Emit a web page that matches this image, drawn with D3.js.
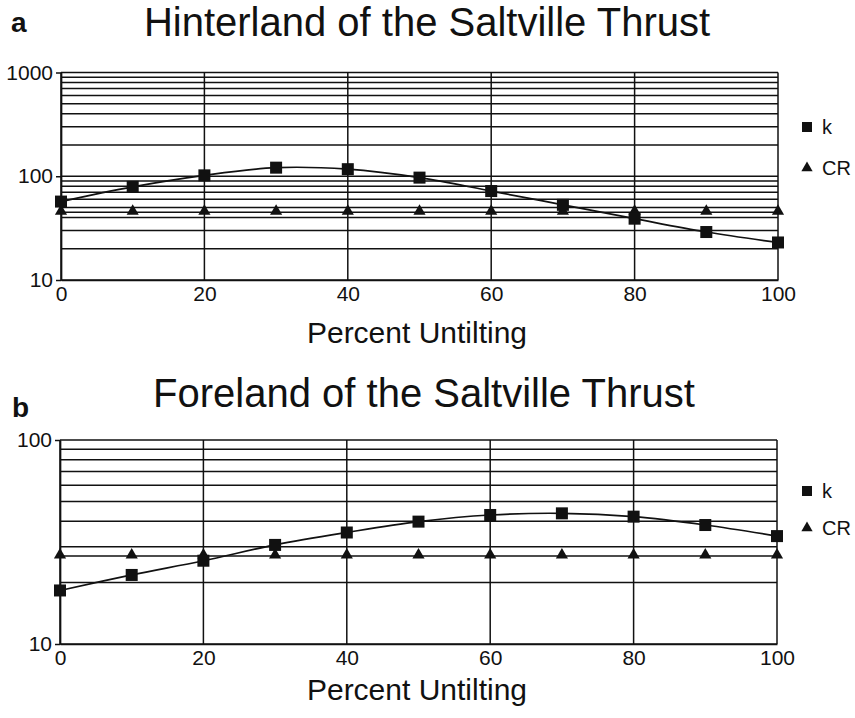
<!DOCTYPE html>
<html>
<head>
<meta charset="utf-8">
<script src="https://cdn.jsdelivr.net/npm/d3@7"></script>
<style>
  html, body { margin: 0; padding: 0; background: #fff; }
  svg { display: block; font-family: "Liberation Sans", Arial, Helvetica, sans-serif; }
</style>
</head>
<body>
<svg id="chart" width="855" height="718"></svg>
<script>
// Percent untilting steps shared by both panels
const untilting = [0, 10, 20, 30, 40, 50, 60, 70, 80, 90, 100];

// Panel a: hinterland of the Saltville Thrust
const hinterlandK  = [57, 79, 102, 121, 117, 97, 72, 53, 39, 29, 23];
const hinterlandCR = [45, 45, 45, 45, 45, 45, 45, 45, 45, 45, 45];

// Panel b: foreland of the Saltville Thrust
const forelandK  = [18.3, 21.8, 25.6, 30.6, 35.2, 39.8, 42.9, 43.7, 42.1, 38.3, 33.8];
const forelandCR = [27, 27, 27, 27, 27, 27, 27, 27, 27, 27, 27];

const xTicks = [0, 20, 40, 60, 80, 100];
const yTicksA = [10, 100, 1000];
const yTicksB = [10, 100];
const seriesNames = ["k", "CR"];

const svg = d3.select("#chart");
const ink = "#111";

function panel(opt) {
  const g = svg.append("g");
  const x = d3.scaleLinear().domain([0, 100]).range([opt.left, opt.right]);
  const y = d3.scaleLog().domain(opt.yDomain).range([opt.bottom, opt.top]);

  // panel letter and title
  g.append("text").attr("x", opt.letterX).attr("y", opt.letterY)
    .attr("font-size", 28).attr("font-weight", "bold").attr("fill", ink).text(opt.letter);
  g.append("text").attr("x", opt.titleX).attr("y", opt.titleY)
    .attr("text-anchor", "middle").attr("font-size", 40).attr("fill", ink).text(opt.title);

  // horizontal grid at every log step (10, 20, ... 90, 100, 200, ...)
  g.append("g").selectAll("line").data(y.ticks())
    .join("line")
    .attr("x1", opt.left).attr("x2", opt.right)
    .attr("y1", d => y(d)).attr("y2", d => y(d))
    .attr("stroke", ink).attr("stroke-width", 1.5);

  // vertical grid
  g.append("g").selectAll("line").data(xTicks)
    .join("line")
    .attr("x1", d => x(d)).attr("x2", d => x(d))
    .attr("y1", opt.top).attr("y2", opt.bottom)
    .attr("stroke", ink).attr("stroke-width", 1.5);

  // axes
  const yAxis = d3.axisLeft(y).tickValues(opt.yTicks).tickFormat(d3.format("d"))
    .tickSizeInner(5).tickSizeOuter(0).tickPadding(3);
  const ya = g.append("g").attr("transform", `translate(${opt.left},0)`).call(yAxis);
  ya.select(".domain").attr("stroke", ink).attr("stroke-width", 1.7);
  ya.selectAll(".tick line").attr("stroke", ink).attr("stroke-width", 1.5);
  ya.selectAll(".tick text").attr("font-size", 21).attr("fill", ink)
    .attr("font-family", "Liberation Sans, Arial, sans-serif");

  const xAxis = d3.axisBottom(x).tickValues(xTicks).tickSizeInner(0).tickSizeOuter(0).tickPadding(6);
  const xa = g.append("g").attr("transform", `translate(0,${opt.bottom})`).call(xAxis);
  xa.select(".domain").attr("stroke", ink).attr("stroke-width", 1.7);
  xa.selectAll(".tick text").attr("font-size", 21).attr("fill", ink)
    .attr("font-family", "Liberation Sans, Arial, sans-serif");

  g.append("text").attr("x", opt.xLabelX).attr("y", opt.xLabelY)
    .attr("text-anchor", "middle").attr("font-size", 30).attr("fill", ink).text("Percent Untilting");

  const kPts = untilting.map((u, i) => [u, opt.k[i]]);
  const crPts = untilting.map((u, i) => [u, opt.cr[i]]);

  // CR series line and triangle markers
  g.append("path").datum(crPts)
    .attr("d", d3.line().x(d => x(d[0])).y(d => y(d[1])))
    .attr("fill", "none").attr("stroke", ink).attr("stroke-width", 1.5);
  const tri = d3.symbol().type(d3.symbolTriangle).size(64);
  g.append("g").selectAll("path").data(crPts).join("path")
    .attr("transform", d => `translate(${x(d[0])},${y(d[1]) - 1})`)
    .attr("d", tri).attr("fill", ink);

  // k series: smoothed line with square markers
  g.append("path").datum(kPts)
    .attr("d", d3.line().x(d => x(d[0])).y(d => y(d[1])).curve(d3.curveCatmullRom.alpha(0.5)))
    .attr("fill", "none").attr("stroke", ink).attr("stroke-width", 1.7);
  g.append("g").selectAll("rect").data(kPts).join("rect")
    .attr("x", d => x(d[0]) - 6).attr("y", d => y(d[1]) - 6)
    .attr("width", 12).attr("height", 12).attr("fill", ink);

  // legend
  const lg = g.append("g");
  lg.append("rect").attr("x", 802).attr("y", opt.legendY - 5).attr("width", 10).attr("height", 10).attr("fill", ink);
  lg.append("path").attr("transform", `translate(807,${opt.legendY + opt.legendGap})`)
    .attr("d", d3.symbol().type(d3.symbolTriangle).size(55)).attr("fill", ink);
  lg.selectAll("text").data(seriesNames).join("text")
    .attr("x", 822).attr("y", (d, i) => opt.legendY + i * opt.legendGap + 7)
    .attr("font-size", 20).attr("fill", ink).text(d => d);
}

panel({
  letter: "a", letterX: 11, letterY: 32,
  title: "Hinterland of the Saltville Thrust", titleX: 427, titleY: 36,
  left: 61, right: 778, top: 72.5, bottom: 280,
  yDomain: [10, 1000], yTicks: yTicksA,
  xLabelX: 417, xLabelY: 343,
  k: hinterlandK, cr: hinterlandCR,
  legendY: 127, legendGap: 41
});

panel({
  letter: "b", letterX: 12, letterY: 417,
  title: "Foreland of the Saltville Thrust", titleX: 424, titleY: 407,
  left: 60, right: 777, top: 440, bottom: 644,
  yDomain: [10, 100], yTicks: yTicksB,
  xLabelX: 417, xLabelY: 700,
  k: forelandK, cr: forelandCR,
  legendY: 491, legendGap: 37
});
</script>
</body>
</html>
